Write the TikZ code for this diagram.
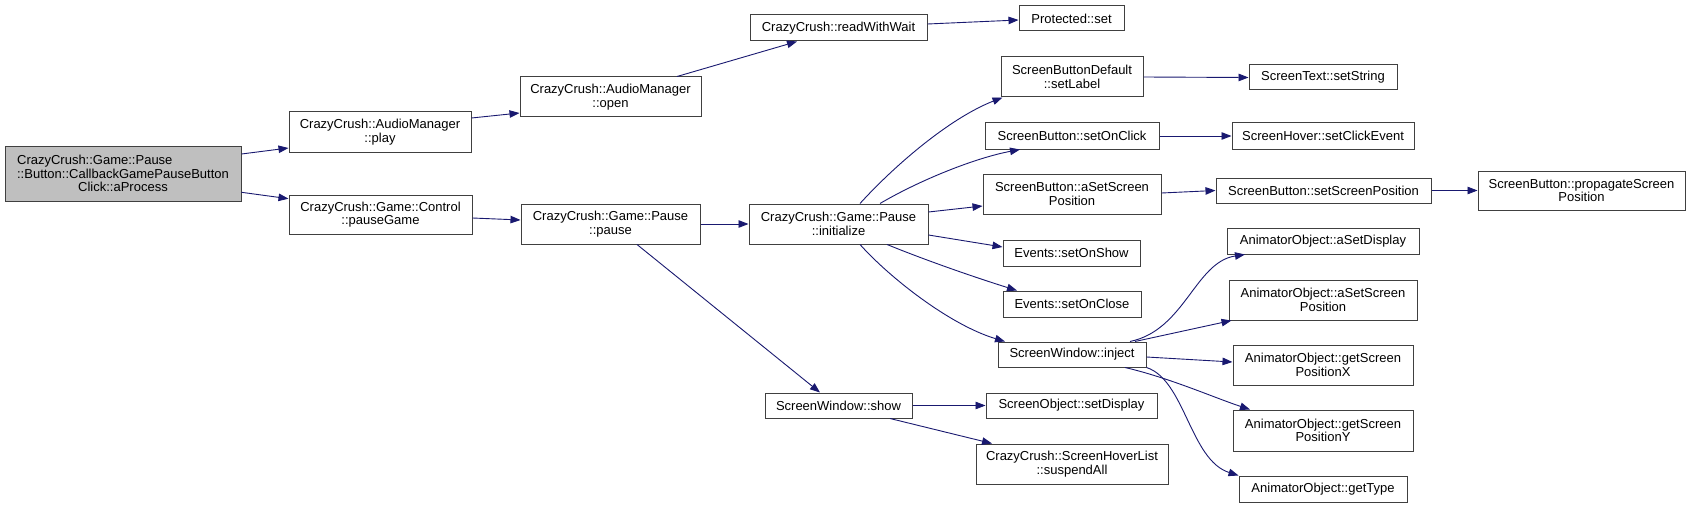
\documentclass[tikz,border=0pt]{standalone}
\usepackage{fontspec}
\setmainfont{Liberation Sans}
\usepackage{calc}
\usetikzlibrary{arrows.meta}
\definecolor{edgeblue}{HTML}{191970}
\definecolor{rootgray}{HTML}{BFBFBF}
\definecolor{boxline}{HTML}{404040}
\tikzset{
  fn/.style={draw=boxline, line width=1pt, fill=white, rectangle, inner sep=0pt, align=center,
             font=\fontsize{13}{13.6}\selectfont},
  rootfn/.style={fn, fill=rootgray},
  bx/.style 2 args={minimum width=#1pt, minimum height=#2pt},
  call/.style={draw=edgeblue, line width=0.9pt, -{Triangle[length=10pt,width=7.5pt]}}
}
\begin{document}
\begin{tikzpicture}[x=1pt,y=-1pt]
\fill[white] (0,0) rectangle (1691,508);
\useasboundingbox (0,0) rectangle (1691,508);

% column 0
\node[rootfn, bx={236}{55}] (root) at (123,173.5)
  {\makebox[\widthof{::Button::CallbackGamePauseButton}][l]{CrazyCrush::Game::Pause}\\::Button::CallbackGamePauseButton\\Click::aProcess};
% column 1
\node[fn, bx={182}{40}] (play) at (380,132) {CrazyCrush::AudioManager\\::play};
\node[fn, bx={183}{39}] (pauseGame) at (380.5,214.5) {CrazyCrush::Game::Control\\::pauseGame};
% column 2
\node[fn, bx={181}{40}] (open) at (610.5,97) {CrazyCrush::AudioManager\\::open};
\node[fn, bx={179}{40}] (pause) at (610.5,224) {CrazyCrush::Game::Pause\\::pause};
% column 3
\node[fn, bx={177}{26}] (rww) at (838.5,28) {CrazyCrush::readWithWait};
\node[fn, bx={179}{40}] (init) at (838.5,224) {CrazyCrush::Game::Pause\\::initialize};
\node[fn, bx={147}{25}] (show) at (838.5,405.5) {ScreenWindow::show};
% column 4
\node[fn, bx={105}{25}] (pset) at (1071.5,18.5) {Protected::set};
\node[fn, bx={142}{40}] (setLabel) at (1072,77) {ScreenButtonDefault\\::setLabel};
\node[fn, bx={174}{26}] (setOnClick) at (1072,136) {ScreenButton::setOnClick};
\node[fn, bx={178}{40}] (sbASet) at (1072,194) {ScreenButton::aSetScreen\\Position};
\node[fn, bx={137}{26}] (setOnShow) at (1071.5,253) {Events::setOnShow};
\node[fn, bx={138}{26}] (setOnClose) at (1072,304) {Events::setOnClose};
\node[fn, bx={148}{25}] (inject) at (1072,354.5) {ScreenWindow::inject};
\node[fn, bx={171}{25}] (setDisplay) at (1071.5,405.5) {ScreenObject::setDisplay};
\node[fn, bx={192}{40}] (suspendAll) at (1072,464) {CrazyCrush::ScreenHoverList\\::suspendAll};
% column 5
\node[fn, bx={148}{25}] (setString) at (1323,77.5) {ScreenText::setString};
\node[fn, bx={182}{26}] (setClickEvent) at (1323,136) {ScreenHover::setClickEvent};
\node[fn, bx={215}{25}] (setScreenPos) at (1323.5,190.5) {ScreenButton::setScreenPosition};
\node[fn, bx={192}{26}] (aoSetDisplay) at (1323,241) {AnimatorObject::aSetDisplay};
\node[fn, bx={188}{40}] (aoSetScreen) at (1323,300) {AnimatorObject::aSetScreen\\Position};
\node[fn, bx={180}{40}] (getX) at (1323,365) {AnimatorObject::getScreen\\PositionX};
\node[fn, bx={180}{41}] (getY) at (1323,430.5) {AnimatorObject::getScreen\\PositionY};
\node[fn, bx={168}{26}] (getType) at (1323,489) {AnimatorObject::getType};
% column 6
\node[fn, bx={207}{39}] (propagate) at (1581.5,190.5) {ScreenButton::propagateScreen\\Position};

% edges
\draw[call] ([yshift=19.5pt]root.east) -- ([yshift=-16pt]play.west);
\draw[call] ([yshift=-18.8pt]root.east) -- ([yshift=15.8pt]pauseGame.west);
\draw[call] ([yshift=14pt]play.east) -- ([yshift=-16pt]open.west);
\draw[call] ([xshift=66.5pt]open.north) -- ([xshift=-41.5pt]rww.south);
\draw[call] ([yshift=4pt]rww.east) -- ([yshift=-1.5pt]pset.west);
\draw[call] ([yshift=-3.5pt]pauseGame.east) -- ([yshift=4pt]pause.west);
\draw[call] (pause.east) -- (init.west);
\draw[call] ([xshift=26.5pt]pause.south) -- ([xshift=-18.5pt]show.north);
\draw[call] ([xshift=21.5pt]init.north) .. controls (895,165) and (950,118) .. ([xshift=2pt]setLabel.south west);
\draw[call] ([xshift=41.5pt]init.north) .. controls (920,180) and (975,158) .. ([xshift=-52pt]setOnClick.south);
\draw[call] ([yshift=12pt]init.east) -- ([yshift=-12pt]sbASet.west);
\draw[call] ([yshift=-11pt]init.east) -- ([yshift=6pt]setOnShow.west);
\draw[call] ([xshift=48.5pt]init.south) .. controls (930,262) and (980,279) .. ([xshift=-55pt]setOnClose.north);
\draw[call] ([xshift=21.5pt]init.south) .. controls (890,278) and (950,325) .. ([xshift=-67pt]inject.north);
\draw[call] (show.east) -- (setDisplay.west);
\draw[call] ([xshift=51.5pt]show.south) -- ([xshift=-80pt]suspendAll.north);
\draw[call] (setLabel.east) -- (setString.west);
\draw[call] (setOnClick.east) -- (setClickEvent.west);
\draw[call] ([yshift=1pt]sbASet.east) -- (setScreenPos.west);
\draw[call] (setScreenPos.east) -- (propagate.west);
\draw[call] ([xshift=58pt]inject.north) .. controls (1185,330) and (1195,262) .. ([xshift=-78pt]aoSetDisplay.south);
\draw[call] ([xshift=63pt]inject.north) -- ([xshift=3pt]aoSetScreen.south west);
\draw[call] ([yshift=-2.5pt]inject.east) -- ([yshift=3pt]getX.west);
\draw[call] ([xshift=53pt]inject.south) .. controls (1170,378) and (1215,398) .. ([xshift=-73pt]getY.north);
\draw[call] (inject.south east) .. controls (1185,380) and (1190,460) .. (getType.north west);
\end{tikzpicture}
\end{document}
